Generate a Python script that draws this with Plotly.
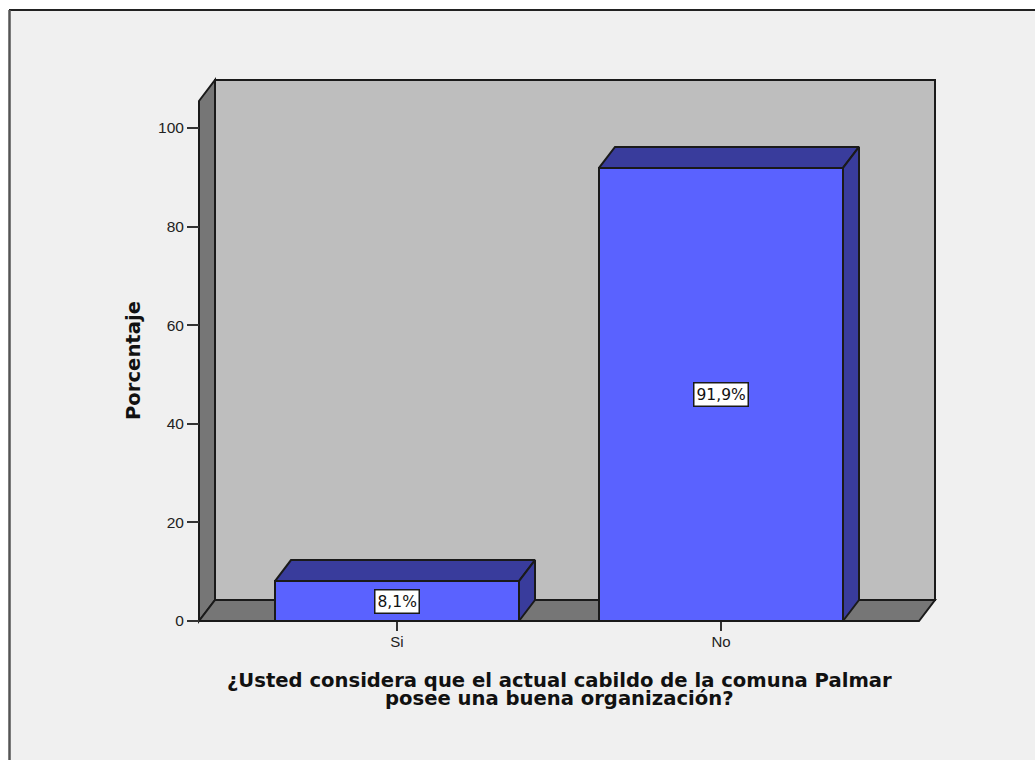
import plotly.graph_objects as go

categories = ["Si", "No"]
percentages = [8.1, 91.9]
value_labels = ["8,1%", "91,9%"]
y_ticks = [0, 20, 40, 60, 80, 100]
x_title_lines = ["¿Usted considera que el actual cabildo de la comuna Palmar",
                 "posee una buena organización?"]
y_title = "Porcentaje"

W, H = 1035, 760
# plot area in page pixels
L, R, T, B = 190, 945, 70, 630
X0_PX, Y0_PX = 397, 621      # first category centre, value 0
PX_PER_CAT, PX_PER_PCT = 324, 4.93
DEPTH_X, DEPTH_Y = 16 / PX_PER_CAT, 21 / PX_PER_PCT
BAR_W = 244 / PX_PER_CAT
XL, XR = -198 / PX_PER_CAT, 522 / PX_PER_CAT   # front plane left / right
YTOP = 520 / PX_PER_PCT                         # front plane top

FRONT, DARK, WALL, BACK, BG = "#5A62FF", "#393C9C", "#767676", "#BEBEBE", "#F0F0F0"
EDGE = "#1a1a1a"
px = list(range(len(categories)))


def poly(pts):
    return "M " + " L ".join(f"{a},{b}" for a, b in pts) + " Z"


def wall(pts, fill):
    return dict(type="path", path=poly(pts), xref="x", yref="y", layer="below",
                fillcolor=fill, line=dict(color=EDGE, width=2))


def page_x(p):
    return (p - L) / (R - L)


def page_y(p):
    return (B - p) / (B - T)


fig = go.Figure()
fig.add_trace(go.Bar(x=px, y=percentages, width=BAR_W,
                     marker=dict(color=FRONT, line=dict(color=EDGE, width=2)),
                     showlegend=False, hoverinfo="skip"))

for c, v in zip(px, percentages):
    a, b = c - BAR_W / 2, c + BAR_W / 2
    top = [(a, v), (b, v), (b + DEPTH_X, v + DEPTH_Y), (a + DEPTH_X, v + DEPTH_Y), (a, v)]
    side = [(b, 0), (b + DEPTH_X, DEPTH_Y), (b + DEPTH_X, v + DEPTH_Y), (b, v), (b, 0)]
    for pts in (top, side):
        fig.add_trace(go.Scatter(x=[p[0] for p in pts], y=[p[1] for p in pts], mode="lines",
                                 fill="toself", fillcolor=DARK, line=dict(color=EDGE, width=2),
                                 showlegend=False, hoverinfo="skip"))

shapes = [
    dict(type="rect", xref="paper", yref="paper",
         x0=page_x(10), x1=page_x(W + 20), y0=page_y(H + 20), y1=page_y(10),
         layer="below", fillcolor=BG, line=dict(width=0)),
    dict(type="line", xref="paper", yref="paper", x0=page_x(9), x1=page_x(W + 20),
         y0=page_y(10), y1=page_y(10), layer="below", line=dict(color="#222222", width=2)),
    dict(type="line", xref="paper", yref="paper", x0=page_x(9.5), x1=page_x(9.5),
         y0=page_y(10), y1=page_y(H + 20), layer="below", line=dict(color="#555555", width=2.5)),
    wall([(XL + DEPTH_X, DEPTH_Y), (XR + DEPTH_X, DEPTH_Y), (XR + DEPTH_X, YTOP + DEPTH_Y),
          (XL + DEPTH_X, YTOP + DEPTH_Y)], BACK),
    wall([(XL, 0), (XL + DEPTH_X, DEPTH_Y), (XL + DEPTH_X, YTOP + DEPTH_Y), (XL, YTOP)], WALL),
    wall([(XL, 0), (XR, 0), (XR + DEPTH_X, DEPTH_Y), (XL + DEPTH_X, DEPTH_Y)], WALL),
]

annotations = [
    dict(x=c, y=v / 2, xref="x", yref="y", text=t, showarrow=False, bgcolor="white",
         bordercolor=EDGE, borderwidth=1.5, borderpad=2,
         font=dict(family="DejaVu Sans", size=15.5, color="#111111"))
    for c, v, t in zip(px, percentages, value_labels)
]
xc = (XL + XR) / 2
for i, line in enumerate(x_title_lines):
    annotations.append(dict(x=xc, xref="x", y=page_y(680 + 18 * i), yref="paper",
                            text=f"<b>{line}</b>", showarrow=False, xanchor="center", yanchor="middle",
                            font=dict(family="DejaVu Sans", size=19.6, color="#111111")))
annotations.append(dict(x=page_x(133), xref="paper", y=YTOP / 2, yref="y", text=f"<b>{y_title}</b>",
                        textangle=-90, showarrow=False, xanchor="center", yanchor="middle",
                        font=dict(family="DejaVu Sans", size=19.6, color="#111111")))

fig.update_layout(
    width=W, height=H, autosize=False, paper_bgcolor="white", plot_bgcolor="rgba(0,0,0,0)",
    margin=dict(l=L, r=W - R, t=T, b=H - B, pad=0),
    shapes=shapes, annotations=annotations, showlegend=False, bargap=0,
    xaxis=dict(range=[(L - X0_PX) / PX_PER_CAT, (R - X0_PX) / PX_PER_CAT],
               tickmode="array", tickvals=px, ticktext=categories,
               ticks="outside", ticklen=9, tickwidth=2, tickcolor="#333333", ticklabelstandoff=-2,
               tickfont=dict(family="Liberation Sans", size=15, color="#222222"),
               showgrid=False, zeroline=False, showline=False, anchor="free",
               position=(B - Y0_PX) / (B - T)),
    yaxis=dict(range=[(Y0_PX - B) / PX_PER_PCT, (Y0_PX - T) / PX_PER_PCT],
               tickmode="array", tickvals=y_ticks, ticks="outside", ticklen=12, tickwidth=2,
               tickcolor="#333333", tickfont=dict(family="Liberation Sans", size=15.5, color="#222222"),
               showgrid=False, zeroline=False, showline=False, anchor="free",
               position=(199 - L) / (R - L)),
)

fig.write_html("out.html", config={"displayModeBar": False},
               post_script="document.body.style.margin='0';document.body.style.overflow='hidden';")
